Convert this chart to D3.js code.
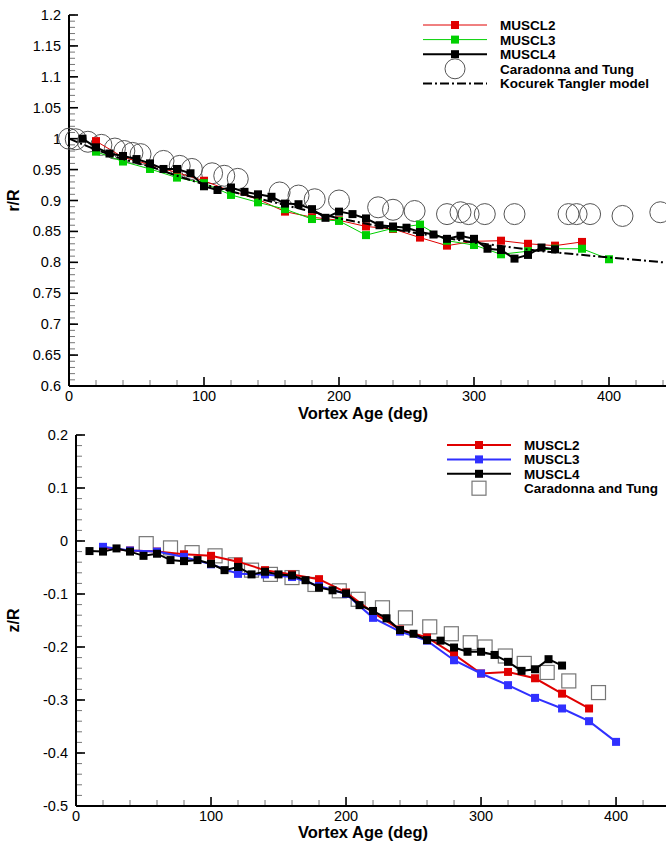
<!DOCTYPE html>
<html>
<head>
<meta charset="utf-8">
<script src="https://cdn.jsdelivr.net/npm/d3@7"></script>
<style>
  body { margin: 0; background: #fff; }
  svg { display: block; font-family: "Liberation Sans", Arial, sans-serif; }
</style>
</head>
<body>
<div id="chart"></div>
<script>
// ---- top panel: r/R ----
const m2Age = [20, 40, 60, 80, 100, 120, 140, 160, 180, 200, 220, 240, 260, 280, 300, 320, 340, 360, 380];
const m2R = [0.996, 0.970, 0.958, 0.945, 0.932, 0.915, 0.902, 0.882, 0.873, 0.868, 0.858, 0.854, 0.840, 0.827, 0.834, 0.835, 0.830, 0.827, 0.833];
const m3Age = [20, 40, 60, 80, 100, 120, 140, 160, 180, 200, 220, 240, 260, 280, 300, 320, 340, 360, 380, 400];
const m3R = [0.979, 0.963, 0.951, 0.937, 0.928, 0.909, 0.897, 0.886, 0.870, 0.867, 0.844, 0.855, 0.861, 0.835, 0.828, 0.813, 0.818, 0.822, 0.822, 0.805];
const m4Age = [10, 20, 30, 40, 50, 60, 70, 80, 90, 100, 110, 120, 130, 140, 150, 160, 170, 180, 190, 200,
  210, 220, 230, 240, 250, 260, 270, 280, 290, 300, 310, 320, 330, 340, 350, 360];
const m4R = [1.0, 0.986, 0.976, 0.972, 0.967, 0.960, 0.951, 0.951, 0.944, 0.923, 0.917, 0.921, 0.914, 0.910, 0.906, 0.895, 0.894, 0.886, 0.872, 0.882,
  0.878, 0.871, 0.860, 0.858, 0.856, 0.849, 0.845, 0.838, 0.843, 0.838, 0.822, 0.820, 0.806, 0.812, 0.824, 0.821];
const ctAge = [0, 5, 14, 24, 34, 41, 47, 53, 70, 82, 91, 106, 115, 125, 156, 170, 182, 200, 229, 240, 256,
  280, 290, 296, 308, 330, 370, 376, 386, 410, 438];
const ctR = [1.0, 0.999, 0.995, 0.990, 0.984, 0.980, 0.977, 0.975, 0.964, 0.956, 0.951, 0.944, 0.940, 0.935, 0.913, 0.908, 0.902, 0.900, 0.889, 0.885, 0.883,
  0.878, 0.881, 0.878, 0.878, 0.878, 0.878, 0.878, 0.878, 0.875, 0.881];
const ktAge = [0, 20, 40, 60, 80, 100, 150, 200, 250, 300, 350, 400, 440];
const ktR = [1.0, 0.982, 0.967, 0.955, 0.940, 0.926, 0.898, 0.871, 0.850, 0.832, 0.818, 0.808, 0.800];

// ---- bottom panel: z/R ----
const b2Age = [20, 40, 60, 80, 100, 120, 140, 160, 180, 200, 220, 240, 260, 280, 300, 320, 340, 360, 380];
const b2Z = [-0.013, -0.018, -0.020, -0.025, -0.028, -0.039, -0.055, -0.063, -0.072, -0.097, -0.135, -0.167, -0.182, -0.214, -0.250, -0.247, -0.259, -0.288, -0.316];
const b3Age = [20, 40, 60, 80, 100, 120, 140, 160, 180, 200, 220, 240, 260, 280, 300, 320, 340, 360, 380, 400];
const b3Z = [-0.011, -0.018, -0.020, -0.030, -0.044, -0.062, -0.063, -0.068, -0.085, -0.100, -0.145, -0.171, -0.188, -0.225, -0.250, -0.272, -0.296, -0.316, -0.340, -0.379];
const b4Age = [10, 20, 30, 40, 50, 60, 70, 80, 90, 100, 110, 120, 130, 140, 150, 160, 170, 180, 190, 200,
  210, 220, 230, 240, 250, 260, 270, 280, 290, 300, 310, 320, 330, 340, 350, 360];
const b4Z = [-0.019, -0.020, -0.014, -0.020, -0.028, -0.024, -0.036, -0.038, -0.036, -0.043, -0.055, -0.049, -0.063, -0.058, -0.063, -0.065, -0.074, -0.088, -0.093, -0.099,
  -0.121, -0.132, -0.146, -0.168, -0.175, -0.187, -0.188, -0.201, -0.209, -0.209, -0.215, -0.228, -0.245, -0.242, -0.223, -0.235];
const bcAge = [52, 70, 86, 103, 118, 130, 144, 160, 177, 195, 209, 227, 244, 262, 278, 292, 303, 318, 332, 349, 365, 387];
const bcZ = [-0.005, -0.013, -0.022, -0.028, -0.045, -0.055, -0.063, -0.069, -0.082, -0.094, -0.110, -0.126, -0.145, -0.162, -0.175, -0.192, -0.200, -0.217, -0.231, -0.248, -0.264, -0.286];

const xTicks = [0, 100, 200, 300, 400];
const rTicks = [1.2, 1.15, 1.1, 1.05, 1, 0.95, 0.9, 0.85, 0.8, 0.75, 0.7, 0.65, 0.6];
const zTicks = [0.2, 0.1, 0, -0.1, -0.2, -0.3, -0.4, -0.5];

const W = 666, H = 842;
const svg = d3.select("div#chart").append("svg")
    .attr("width", W)
    .attr("height", H);

const zip = (a, b) => a.map((d, i) => [d, b[i]]);

function drawPanel(opt) {
    const x = d3.scaleLinear().domain(opt.xDomain).range(opt.xRange);
    const y = d3.scaleLinear().domain(opt.yDomain).range(opt.yRange);
    const g = svg.append("g");

    // minor ticks (gray) then major (black), pointing inward
    const xMinor = d3.range(0, opt.xDomain[1] + 0.001, 20).filter(v => v % 100 != 0);
    g.selectAll(".xminor").data(xMinor).join("line")
        .attr("x1", d => x(d)).attr("x2", d => x(d))
        .attr("y1", opt.yRange[0]).attr("y2", opt.yRange[0] - 6)
        .attr("stroke", "#777").attr("stroke-width", 1);
    g.selectAll(".xmajor").data(xTicks).join("line")
        .attr("x1", d => x(d)).attr("x2", d => x(d))
        .attr("y1", opt.yRange[0]).attr("y2", opt.yRange[0] - 9)
        .attr("stroke", "#000").attr("stroke-width", 1.6);
    g.selectAll(".xlab").data(xTicks).join("text")
        .attr("x", d => x(d)).attr("y", opt.yRange[0] + 15)
        .attr("text-anchor", "middle")
        .attr("font-size", 14.5)
        .text(d => d);

    const yMinor = d3.range(opt.yDomain[0], opt.yDomain[1] + 1e-6, opt.yMinorStep);
    g.selectAll(".yminor").data(yMinor).join("line")
        .attr("x1", opt.xRange[0]).attr("x2", opt.xRange[0] + 6)
        .attr("y1", d => y(d)).attr("y2", d => y(d))
        .attr("stroke", "#777").attr("stroke-width", 1);
    g.selectAll(".ymajor").data(opt.yTicks).join("line")
        .attr("x1", opt.xRange[0]).attr("x2", opt.xRange[0] + 9)
        .attr("y1", d => y(d)).attr("y2", d => y(d))
        .attr("stroke", "#000").attr("stroke-width", 1.6);
    g.selectAll(".ylab").data(opt.yTicks).join("text")
        .attr("x", opt.xRange[0] - 8).attr("y", d => y(d) + 5)
        .attr("text-anchor", "end")
        .attr("font-size", 14.5)
        .text(d => d);

    // axis lines
    g.append("line")
        .attr("x1", opt.xRange[0]).attr("x2", W)
        .attr("y1", opt.yRange[0]).attr("y2", opt.yRange[0])
        .attr("stroke", "#000").attr("stroke-width", 2);
    g.append("line")
        .attr("x1", opt.xRange[0]).attr("x2", opt.xRange[0])
        .attr("y1", opt.yRange[0]).attr("y2", opt.yRange[1])
        .attr("stroke", "#000").attr("stroke-width", 2);

    // axis titles
    g.append("text")
        .attr("x", 363).attr("y", opt.yRange[0] + opt.xTitleDy)
        .attr("text-anchor", "middle").attr("font-weight", "bold").attr("font-size", 16.5)
        .text("Vortex Age (deg)");
    g.append("text")
        .attr("transform", `translate(${opt.yTitleX},${(opt.yRange[0] + opt.yRange[1]) / 2}) rotate(-90)`)
        .attr("text-anchor", "middle").attr("font-weight", "bold").attr("font-size", 16)
        .text(opt.yTitle);

    const line = d3.line().x(d => x(d[0])).y(d => y(d[1]));

    // open symbols (experiment) first
    opt.series.filter(s => s.open).forEach(s => {
        const pts = zip(s.xs, s.ys);
        if (s.open == "circle") {
            g.selectAll(null).data(pts).join("circle")
                .attr("cx", d => x(d[0])).attr("cy", d => y(d[1])).attr("r", 10.5)
                .attr("fill", "none").attr("stroke", "#555").attr("stroke-width", 1);
        } else {
            g.selectAll(null).data(pts).join("rect")
                .attr("x", d => x(d[0]) - 7).attr("y", d => y(d[1]) - 7)
                .attr("width", 14).attr("height", 14)
                .attr("fill", "none").attr("stroke", "#777").attr("stroke-width", 1.2);
        }
    });

    opt.series.filter(s => !s.open).forEach(s => {
        const pts = zip(s.xs, s.ys);
        g.append("path").datum(pts)
            .attr("d", line)
            .attr("fill", "none")
            .attr("stroke", s.color)
            .attr("stroke-width", s.width)
            .attr("stroke-dasharray", s.dash || null);
        if (s.marker) {
            g.selectAll(null).data(pts).join("rect")
                .attr("x", d => x(d[0]) - 4).attr("y", d => y(d[1]) - 4)
                .attr("width", 8).attr("height", 8)
                .attr("fill", s.color);
        }
    });

    // legend
    const lg = g.append("g");
    opt.series.forEach((s, i) => {
        const ly = opt.legend.y + i * opt.legend.dy;
        const lx0 = opt.legend.x, lx1 = opt.legend.x + 64, lm = opt.legend.x + 32;
        if (s.open == "circle") {
            lg.append("circle").attr("cx", lm).attr("cy", ly).attr("r", 10)
                .attr("fill", "none").attr("stroke", "#555").attr("stroke-width", 1);
        } else if (s.open) {
            lg.append("rect").attr("x", lm - 7).attr("y", ly - 7).attr("width", 14).attr("height", 14)
                .attr("fill", "none").attr("stroke", "#777").attr("stroke-width", 1.2);
        } else {
            lg.append("line").attr("x1", lx0).attr("x2", lx1).attr("y1", ly).attr("y2", ly)
                .attr("stroke", s.color).attr("stroke-width", s.width)
                .attr("stroke-dasharray", s.dash || null);
            if (s.marker) {
                lg.append("rect").attr("x", lm - 4).attr("y", ly - 4).attr("width", 8).attr("height", 8)
                    .attr("fill", s.color);
            }
        }
        lg.append("text").attr("x", opt.legend.x + 77).attr("y", ly + 5)
            .attr("font-weight", "bold").attr("font-size", 13.5)
            .text(s.name);
    });
}

drawPanel({
    xDomain: [0, 442], xRange: [69, 665.7],
    yDomain: [0.6, 1.2], yRange: [386, 15], yMinorStep: 0.01,
    yTicks: rTicks, yTitle: "r/R", yTitleX: 19, xTitleDy: 33,
    legend: { x: 423, y: 25, dy: 14.6 },
    series: [
        { name: "MUSCL2", xs: m2Age, ys: m2R, color: "#e00000", width: 1, marker: true },
        { name: "MUSCL3", xs: m3Age, ys: m3R, color: "#00d000", width: 1, marker: true },
        { name: "MUSCL4", xs: m4Age, ys: m4R, color: "#000", width: 2, marker: true },
        { name: "Caradonna and Tung", xs: ctAge, ys: ctR, open: "circle" },
        { name: "Kocurek Tangler model", xs: ktAge, ys: ktR, color: "#000", width: 2, dash: "9,3,2,3" }
    ]
});

drawPanel({
    xDomain: [0, 437], xRange: [76, 666],
    yDomain: [-0.5, 0.2], yRange: [806, 435], yMinorStep: 0.02,
    yTicks: zTicks, yTitle: "z/R", yTitleX: 19, xTitleDy: 32,
    legend: { x: 447, y: 445, dy: 14.4 },
    series: [
        { name: "MUSCL2", xs: b2Age, ys: b2Z, color: "#e00000", width: 2, marker: true },
        { name: "MUSCL3", xs: b3Age, ys: b3Z, color: "#3030ff", width: 2, marker: true },
        { name: "MUSCL4", xs: b4Age, ys: b4Z, color: "#000", width: 2, marker: true },
        { name: "Caradonna and Tung", xs: bcAge, ys: bcZ, open: "square" }
    ]
});
</script>
</body>
</html>
